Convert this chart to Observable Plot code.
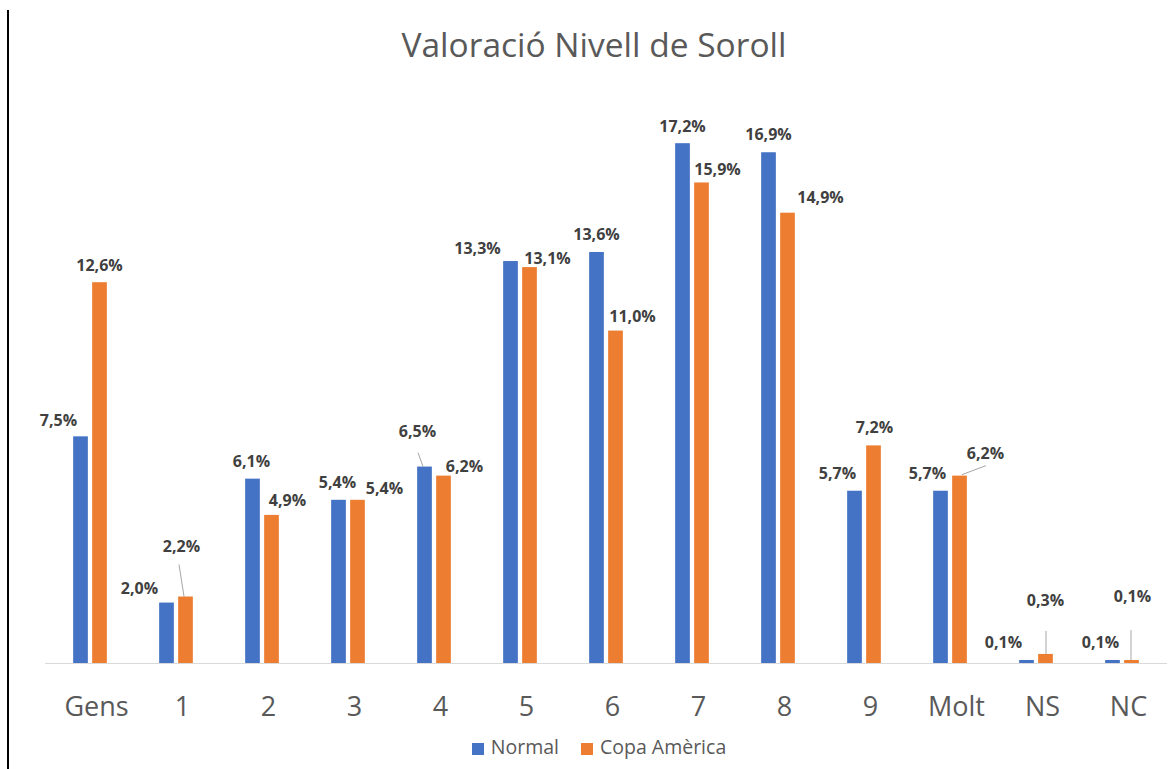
<!DOCTYPE html>
<html>
<head>
<meta charset="utf-8">
<script src="https://cdn.jsdelivr.net/npm/d3@7"></script>
<script src="https://cdn.jsdelivr.net/npm/@observablehq/plot@0.6"></script>
<style>
  body { margin: 0; background: #fff; }
  #wrap { position: relative; width: 1170px; height: 769px; overflow: hidden; font-family: "Open Sans", sans-serif; }
  #edge { position: absolute; left: 7px; top: 10px; width: 1.5px; height: 759px; background: #000; z-index: 5; }
  #title { position: absolute; left: 0; width: 1188px; top: 21px; text-align: center; font-size: 33.5px; color: #595959; line-height: 46px; }
  #chart { position: absolute; left: 0; top: 95px; }
  #legend { position: absolute; left: 0; width: 1198px; top: 734px; text-align: center; font-size: 19.5px; color: #595959; line-height: 26px; }
  #legend .item { display: inline-block; margin: 0 11px; }
  #legend .sw { display: inline-block; width: 12px; height: 12px; margin-right: 7px; vertical-align: -1px; }
</style>
</head>
<body>
<div id="wrap">
  <div id="title">Valoració Nivell de Soroll</div>
  <div id="chart"></div>
  <div id="legend"></div>
  <div id="edge"></div>
</div>
<script>
// ---- data ----
const categories = ["Gens", "1", "2", "3", "4", "5", "6", "7", "8", "9", "Molt", "NS", "NC"];
const seriesNames = ["Normal", "Copa Amèrica"];
const normalValues = [7.5, 2.0, 6.1, 5.4, 6.5, 13.3, 13.6, 17.2, 16.9, 5.7, 5.7, 0.1, 0.1];
const copaValues   = [12.6, 2.2, 4.9, 5.4, 6.2, 13.1, 11.0, 15.9, 14.9, 7.2, 6.2, 0.3, 0.1];
const seriesColors = ["#4472C4", "#ED7D31"];

// label placement (pixel nudges relative to group centre and bar top)
const normalLabelDx = [-32, -37, -11, -11, -17, -43, -10, -10, -10, -27, -23, -33, -22];
const normalLabelDy = [-16, -14, -17, -17, -35, -13, -18, -17, -18, -17, -17, -18, -18];
const copaLabelDx   = [9, 5, 25, 36, 30, 27, 26, 25, 42, 10, 35, 9, 10];
const copaLabelDy   = [-17, -50, -15, -11, -9, -9, -14, -13, -15, -18, -22, -54, -64];
// leader lines: [category, series index, x1, y1, x2, y2] pixel offsets from group centre / bar top
const leaders = [
  ["1", 1, 3, -32, 8, 0],
  ["4", 0, -16, -14, -11, 0],
  ["Molt", 1, 12, -1, 36, -10],
  ["NS", 1, 10, -23, 10, 0],
  ["NC", 1, 9, -30, 9, 0]
];

// ---- build table ----
const rows = [];
categories.forEach((c, i) => {
  rows.push({cat: c, series: seriesNames[0], si: 0, value: normalValues[i], dx: normalLabelDx[i], dy: normalLabelDy[i]});
  rows.push({cat: c, series: seriesNames[1], si: 1, value: copaValues[i], dx: copaLabelDx[i], dy: copaLabelDy[i]});
});
const fmt = v => v.toFixed(1).replace(".", ",") + "%";

const W = 1170, H = 628, mL = 45, mR = 3, mT = 24, mB = 60;
const bw = (W - mL - mR) / categories.length;
const half = bw / 2;
const barW = 15, gap = 2;

const marks = [
  Plot.ruleY([0], {stroke: "#d9d9d9", strokeWidth: 1.2}),
  Plot.barY(rows.filter(d => d.si === 0), {x: "cat", y: "value", fill: seriesColors[0],
    insetLeft: half - gap - barW, insetRight: half + gap}),
  Plot.barY(rows.filter(d => d.si === 1), {x: "cat", y: "value", fill: seriesColors[1],
    insetLeft: half + gap, insetRight: half - gap - barW}),
  ...rows.map(d => Plot.text([d], {x: "cat", y: "value", text: r => fmt(r.value),
    dx: d.dx, dy: d.dy, fill: "#404040", fontWeight: "bold", fontSize: 16,
    textAnchor: "middle", lineAnchor: "middle"})),
  Plot.axisX({tickSize: 0, tickPadding: 33, fontSize: 27, fill: "#595959", label: null, dx: 6}),
];

const chart = Plot.plot({
  width: W, height: H,
  marginLeft: mL, marginRight: mR, marginTop: mT, marginBottom: mB,
  style: {fontFamily: "'Open Sans', sans-serif", background: "transparent", overflow: "visible"},
  x: {domain: categories, padding: 0, axis: null},
  y: {domain: [0, 18], axis: null},
  marks
});
document.getElementById("chart").appendChild(chart);

// leader lines via the chart's own scales
const xs = chart.scale("x"), ys = chart.scale("y");
const g = d3.select(chart).append("g").attr("stroke", "#a6a6a6").attr("stroke-width", 1);
leaders.forEach(([c, si, x1, y1, x2, y2]) => {
  const i = categories.indexOf(c);
  const v = si === 0 ? normalValues[i] : copaValues[i];
  const cx = xs.apply(c) + xs.bandwidth / 2;
  const ty = ys.apply(v);
  g.append("line").attr("x1", cx + x1).attr("y1", ty + y1).attr("x2", cx + x2).attr("y2", ty + y2);
});

// legend
const leg = document.getElementById("legend");
seriesNames.forEach((s, i) => {
  const it = document.createElement("span");
  it.className = "item";
  const sw = document.createElement("span");
  sw.className = "sw"; sw.style.background = seriesColors[i];
  it.appendChild(sw);
  it.appendChild(document.createTextNode(s));
  leg.appendChild(it);
});
</script>
</body>
</html>
